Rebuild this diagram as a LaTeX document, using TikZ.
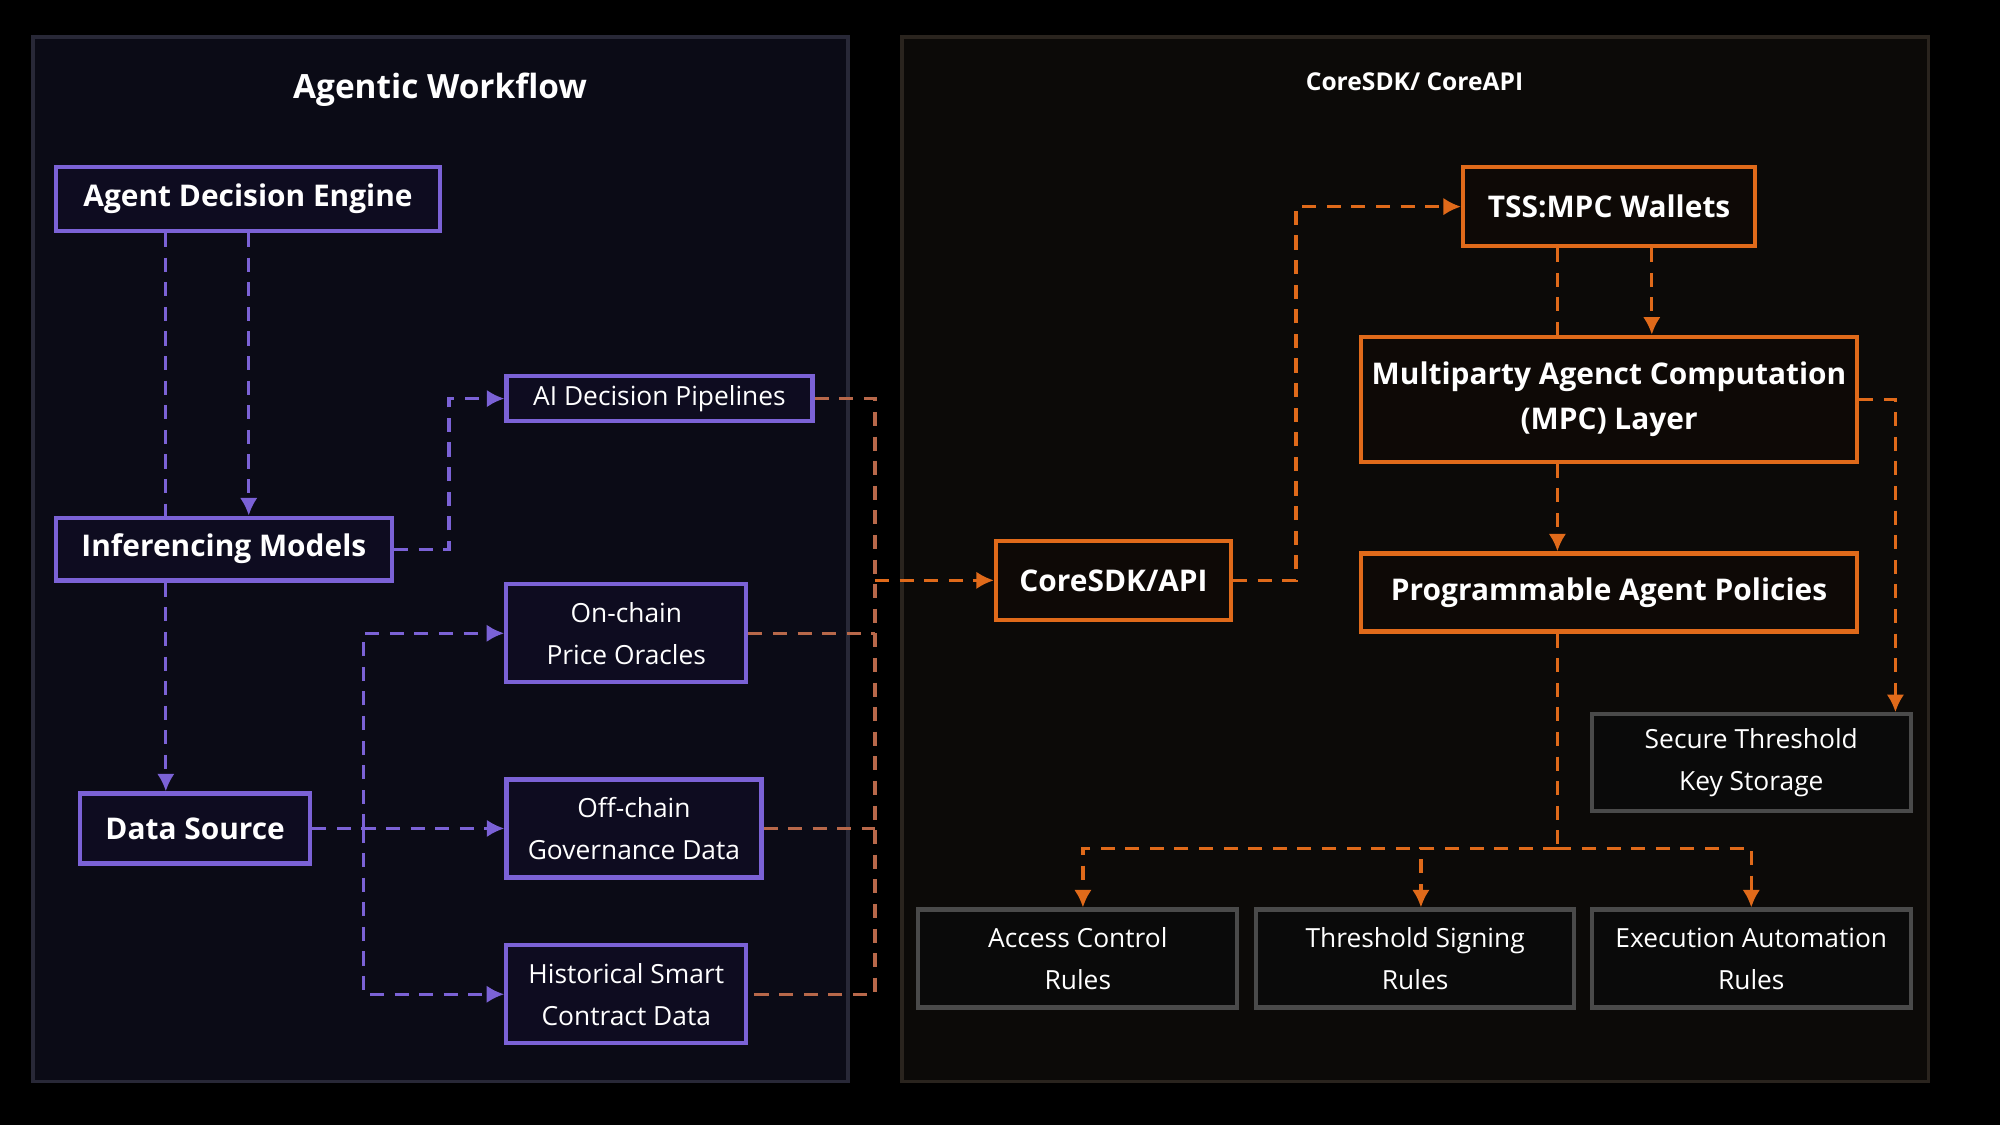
\documentclass[tikz,border=0pt]{standalone}
\usepackage{fontspec}
\setmainfont{Open Sans}
\usetikzlibrary{arrows.meta,positioning}
\definecolor{pline}{HTML}{7B62D6}
\definecolor{oline}{HTML}{E06A1A}
\definecolor{mline}{HTML}{B8684A}
\definecolor{gline}{HTML}{4A4A4A}
\tikzset{
  box/.style={draw,line width=1.2pt,text=white,align=center,inner sep=0pt},
  pbox/.style={box,draw=pline,fill={rgb,255:red,14;green,12;blue,32}},
  obox/.style={box,draw=oline,fill={rgb,255:red,14;green,9;blue,6}},
  gbox/.style={box,draw=gline,fill={rgb,255:red,10;green,10;blue,10}},
  big/.style={font=\fontsize{8.5}{13}\selectfont\bfseries},
  small/.style={font=\fontsize{7.5}{12}\selectfont},
  pdash/.style={draw=pline,line width=0.9pt,dash pattern=on 4pt off 3pt},
  odash/.style={draw=oline,line width=0.9pt,dash pattern=on 4pt off 3pt},
  mdash/.style={draw=mline,line width=0.9pt,dash pattern=on 4pt off 3pt},
  parr/.style={pdash,-{Latex[length=5pt,width=5pt,sep=0pt]}},
  oarr/.style={odash,-{Latex[length=5pt,width=5pt,sep=0pt]}},
}
\begin{document}
\begin{tikzpicture}[x=0.01276cm,y=-0.01276cm]
  \fill[black] (0,0) rectangle (1568,882);
  \useasboundingbox (0,0) rectangle (1568,882);
  % panels
  \draw[draw={rgb,255:red,40;green,40;blue,55},fill={rgb,255:red,11;green,11;blue,22},line width=1pt]
    (26,29) rectangle (665,848);
  \draw[draw={rgb,255:red,42;green,36;blue,30},fill={rgb,255:red,12;green,10;blue,8},line width=1pt]
    (707,29) rectangle (1512,848);
  \node[text=white,font=\fontsize{9.5}{11}\selectfont\bfseries] (ttl) at (345,70) {Agentic Workflow};
  \node[text=white,font=\fontsize{7}{9}\selectfont\bfseries] (ttr) at (1109,64) {CoreSDK/ CoreAPI};

  % left nodes
  \node[pbox,big,minimum width=3.84cm,minimum height=0.64cm] (ade) at (194.5,156) {Agent Decision Engine};
  \node[pbox,big,minimum width=3.36cm,minimum height=0.63cm] (inf) at (175.5,430.5) {Inferencing Models};
  \node[pbox,big,minimum width=2.30cm,minimum height=0.70cm] (ds) at (153,649.5) {Data Source};
  \node[pbox,small,minimum width=3.06cm,minimum height=0.45cm] (ai) at (517,312.5) {AI Decision Pipelines};
  \node[pbox,small,minimum width=2.40cm,minimum height=0.98cm] (onc) at (491,496.5) {On-chain\\Price Oracles};
  \node[pbox,small,minimum width=2.55cm,minimum height=0.98cm] (offc) at (497,649.5) {Off-chain\\Governance Data};
  \node[pbox,small,minimum width=2.40cm,minimum height=0.98cm] (hist) at (491,779.5) {Historical Smart\\Contract Data};

  % right nodes
  \node[obox,big,minimum width=2.35cm,minimum height=0.79cm] (core) at (873,455) {CoreSDK/API};
  \node[obox,big,minimum width=2.92cm,minimum height=0.79cm] (tss) at (1261.5,162) {TSS:MPC Wallets};
  \node[obox,big,minimum width=4.96cm,minimum height=1.25cm] (mpc) at (1261.5,313) {Multiparty Agenct Computation\\(MPC) Layer};
  \node[obox,big,minimum width=4.96cm,minimum height=0.78cm] (pol) at (1261.5,464.5) {Programmable Agent Policies};
  \node[gbox,small,minimum width=3.19cm,minimum height=0.97cm] (sec) at (1373,598) {Secure Threshold\\Key Storage};
  \node[gbox,small,minimum width=3.19cm,minimum height=0.98cm] (acc) at (845,751.5) {Access Control\\Rules};
  \node[gbox,small,minimum width=3.18cm,minimum height=0.98cm] (thr) at (1109.5,751.5) {Threshold Signing\\Rules};
  \node[gbox,small,minimum width=3.19cm,minimum height=0.98cm] (exe) at (1373,751.5) {Execution Automation\\Rules};

  % left connectors
  \draw[pdash] (130,0 |- ade.south) -- (130,0 |- inf.north);
  \draw[parr] (195,0 |- ade.south) -- (195,0 |- inf.north);
  \draw[parr] (130,0 |- inf.south) -- (130,0 |- ds.north);
  \draw[parr] (inf.east) -- (352,0 |- inf.east) |- (ai.west);
  \draw[parr] (ds.east) -- (offc.west);
  \draw[parr] (285,0 |- ds.east) |- (onc.west);
  \draw[parr] (285,0 |- ds.east) |- (hist.west);

  % bus to CoreSDK
  \draw[mdash] (ai.east) -| (686,0 |- hist.east) -- (hist.east);
  \draw[mdash] (onc.east) -- (686,0 |- onc.east);
  \draw[mdash] (offc.east) -- (686,0 |- offc.east);
  \draw[oarr] (686,0 |- core.west) -- (core.west);

  % right connectors
  \draw[oarr] (core.east) -- (1016,0 |- core.east) |- (tss.west);
  \draw[odash] (1221,0 |- tss.south) -- (1221,0 |- mpc.north);
  \draw[oarr] (1295,0 |- tss.south) -- (1295,0 |- mpc.north);
  \draw[oarr] (1221,0 |- mpc.south) -- (1221,0 |- pol.north);
  \draw[oarr] (mpc.east) -| (1486,0 |- sec.north);
  \coordinate (split) at (1221,665);
  \draw[odash] (1221,0 |- pol.south) -- (split);
  \draw[oarr] (split) -| (849,0 |- acc.north);
  \draw[oarr] (split) -| (1114,0 |- thr.north);
  \draw[oarr] (split) -| (exe.north);
\end{tikzpicture}
\end{document}
